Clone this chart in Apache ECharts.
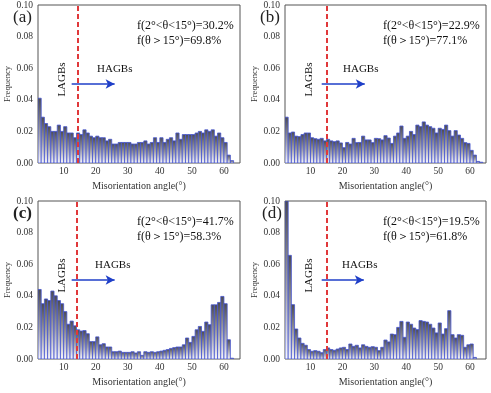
<!DOCTYPE html>
<html><head><meta charset="utf-8">
<script src="https://cdn.jsdelivr.net/npm/echarts@6/dist/echarts.min.js"></script>
<style>html,body{margin:0;padding:0;background:#fff}#c{width:491px;height:393px}</style>
</head><body><div id="c"></div>
<script>
// ---- data ----
const binStart = 2;       // first bin left edge (deg)
const binWidth = 1;       // bin width (deg)
const xTicks = [10, 20, 30, 40, 50, 60];
const yTicks = [0, 0.02, 0.04, 0.06, 0.08, 0.10];
const panelLetters = ['(a)', '(b)', '(c)', '(d)'];
const lowFrac = ['30.2%', '22.9%', '41.7%', '19.5%'];
const highFrac = ['69.8%', '77.1%', '58.3%', '61.8%'];
const boundaryAngle = [14.4, 15, 14.2, 15];
const arrowFrom = [12.5, 13.5, 12.5, 13.5];
const arrowTo = [25.9, 27, 25.9, 26.7];
const arrowY = 0.05;

const freqA = [0.041,0.029,0.025,0.023,0.020,0.020,0.024,0.020,0.023,0.019,
 0.019,0.016,0.019,0.018,0.021,0.019,0.017,0.016,0.017,0.016,
 0.016,0.014,0.015,0.012,0.012,0.013,0.013,0.013,0.013,0.012,
 0.012,0.013,0.013,0.014,0.012,0.013,0.016,0.013,0.016,0.013,
 0.015,0.016,0.014,0.019,0.015,0.018,0.018,0.018,0.018,0.019,
 0.020,0.019,0.021,0.020,0.021,0.017,0.019,0.016,0.013,0.005,
 0.0015];
const freqB = [0.029,0.019,0.0196,0.017,0.0167,0.018,0.019,0.019,0.016,0.0154,
 0.015,0.0156,0.014,0.015,0.014,0.0135,0.014,0.0127,0.0097,0.013,
 0.012,0.0156,0.0129,0.013,0.017,0.0146,0.0146,0.0129,0.0156,0.0154,
 0.0146,0.0173,0.0158,0.0124,0.017,0.019,0.0234,0.0156,0.017,0.020,
 0.018,0.024,0.023,0.026,0.024,0.023,0.022,0.019,0.022,0.0213,
 0.024,0.0205,0.017,0.0205,0.0177,0.0156,0.0129,0.0124,0.008,0.005,
 0.001,0.0005];
const freqC = [0.044,0.035,0.038,0.037,0.043,0.040,0.037,0.035,0.030,0.022,
 0.024,0.021,0.0185,0.0177,0.018,0.016,0.011,0.011,0.014,0.009,
 0.0097,0.0076,0.0076,0.0046,0.0046,0.005,0.0042,0.0042,0.0042,0.0046,
 0.0038,0.0046,0.0023,0.0046,0.0042,0.0046,0.0042,0.0046,0.005,0.0055,
 0.006,0.0067,0.0072,0.0076,0.0076,0.009,0.0133,0.0105,0.0143,0.0185,
 0.0206,0.0175,0.0234,0.0217,0.0343,0.0343,0.0358,0.0396,0.035,0.0122,
 0.0005];
const freqD = [0.11,0.0656,0.0344,0.019,0.0133,0.0099,0.0087,0.006,0.0049,0.0053,
 0.0049,0.004,0.006,0.007,0.006,0.0055,0.0063,0.007,0.0074,0.006,
 0.0095,0.008,0.0087,0.007,0.009,0.008,0.0074,0.0078,0.0074,0.0053,
 0.0074,0.012,0.0108,0.0158,0.0154,0.020,0.0238,0.0137,0.0234,0.022,
 0.0196,0.0186,0.0243,0.0238,0.0234,0.022,0.0196,0.0165,0.0228,0.0158,
 0.0192,0.0306,0.0154,0.0133,0.0154,0.015,0.0074,0.009,0.0095,0.001];
const allFreq = [freqA, freqB, freqC, freqD];

// ---- layout / style ----
const serif = "'Times New Roman','Liberation Serif',serif";
const xMin = 2, xMax = 65, yMin = 0, yMax = 0.1;
const grids = [
  {left: 38, top: 5, width: 202, height: 158},
  {left: 285, top: 5, width: 201, height: 158},
  {left: 38, top: 201, width: 202, height: 158},
  {left: 285, top: 201, width: 201, height: 158}
];

const barGrad = new echarts.graphic.LinearGradient(0, 0, 0, 1, [
  {offset: 0, color: '#4a4a50'},
  {offset: 0.55, color: '#a2a2ac'},
  {offset: 1, color: '#f8f8ff'}
]);

function renderBar(params, api) {
  const x0 = api.value(0);
  const v = Math.min(api.value(1), yMax);
  const p0 = api.coord([x0, v]);
  const p1 = api.coord([x0 + binWidth, 0]);
  return {
    type: 'rect',
    shape: {x: p0[0], y: p0[1], width: p1[0] - p0[0], height: p1[1] - p0[1]},
    style: {fill: barGrad, stroke: '#4656d0', lineWidth: 0.8}
  };
}

const option = {
  animation: false,
  backgroundColor: '#fff',
  grid: grids.map(g => Object.assign({show: true, borderColor: '#555', borderWidth: 1, backgroundColor: 'transparent'}, g)),
  xAxis: grids.map((g, i) => ({
    type: 'value', gridIndex: i, min: xMin, max: xMax,
    name: 'Misorientation angle(°)', nameLocation: 'middle', nameGap: 18,
    nameTextStyle: {fontFamily: serif, fontSize: 10, color: '#333'},
    axisLine: {show: false},
    axisTick: {show: false},
    splitLine: {show: false},
    axisLabel: {customValues: xTicks, fontFamily: serif, fontSize: 9.5, color: '#333', margin: 3}
  })),
  yAxis: grids.map((g, i) => ({
    type: 'value', gridIndex: i, min: yMin, max: yMax, interval: 0.02,
    name: 'Frequency', nameLocation: 'middle', nameGap: 24,
    nameTextStyle: {fontFamily: serif, fontSize: 8.5, color: '#333'},
    axisLine: {show: false},
    axisTick: {show: false},
    splitLine: {show: false},
    axisLabel: {fontFamily: serif, fontSize: 9.5, color: '#333', margin: 5,
      formatter: v => v.toFixed(2)}
  })),
  series: allFreq.map((freq, i) => ({
    type: 'custom', xAxisIndex: i, yAxisIndex: i,
    renderItem: renderBar, clip: true,
    encode: {x: 0, y: 1},
    data: freq.map((v, k) => [binStart + k * binWidth, v]),
    markLine: {
      silent: true, animation: false,
      data: [
        [{coord: [boundaryAngle[i], yMin], symbol: 'none'}, {coord: [boundaryAngle[i], yMax], symbol: 'none'}],
        [{coord: [arrowFrom[i], arrowY], symbol: 'none', lineStyle: {color: '#1f3fc8', type: 'solid', width: 1.5}},
         {coord: [arrowTo[i], arrowY], symbol: 'arrow', symbolSize: [7, 9]}]
      ],
      lineStyle: {color: '#e0383a', type: [5, 3], width: 2},
      label: {show: false}
    }
  })),
  graphic: []
};

const letterPos = [[13, 9], [260, 9], [13, 205], [262, 205]];
const annoPos = [[137, 18], [383, 18], [137, 214], [383, 214]];
const lagbPos = [[62.5, 79.5], [309, 79.5], [62.5, 275.5], [309, 275.5]];
const hagbPos = [[97, 64], [343, 64], [95, 260], [342, 260]];
for (let i = 0; i < 4; i++) {
  option.graphic.push({
    type: 'text', x: letterPos[i][0], y: letterPos[i][1],
    style: {text: panelLetters[i], fontFamily: serif, fontSize: 17, fontWeight: i === 2 ? 'bold' : 'normal', fill: '#222'}
  });
  option.graphic.push({
    type: 'text', x: annoPos[i][0], y: annoPos[i][1],
    style: {text: 'f(2°<θ<15°)=' + lowFrac[i] + '\nf(θ＞15°)=' + highFrac[i],
      fontFamily: serif, fontSize: 12, lineHeight: 15.5, fill: '#111'}
  });
  option.graphic.push({
    type: 'text', x: lagbPos[i][0], y: lagbPos[i][1], rotation: Math.PI / 2,
    style: {text: 'LAGBs', fontFamily: serif, fontSize: 11, fill: '#111', align: 'center', verticalAlign: 'middle'}
  });
  option.graphic.push({
    type: 'text', x: hagbPos[i][0], y: hagbPos[i][1],
    style: {text: 'HAGBs', fontFamily: serif, fontSize: 11, fill: '#111'}
  });
}

const chart = echarts.init(document.getElementById('c'), null, {renderer: 'canvas'});
chart.setOption(option);
</script>
</body></html>
